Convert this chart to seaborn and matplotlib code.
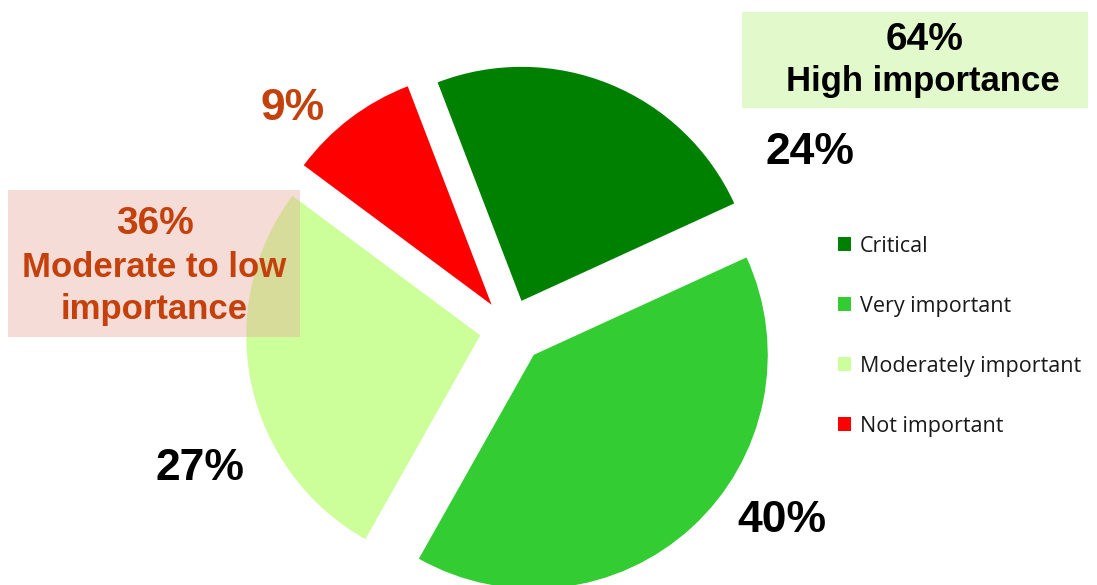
import matplotlib
matplotlib.use("Agg")
import matplotlib.pyplot as plt
from matplotlib.patches import Rectangle, Patch
import seaborn as sns

# Survey shares (percent)
categories = ["Critical", "Very important", "Moderately important", "Not important"]
shares = [24, 40, 27, 9]
colors = ["#008000", "#33CC33", "#CCFF99", "#FF0000"]
label_colors = ["#000000", "#000000", "#000000", "#C4410C"]

high_share = shares[0] + shares[1]
low_share = shares[2] + shares[3]

sns.set_theme(style="white")
plt.rcParams["font.family"] = ["Liberation Sans", "DejaVu Sans"]

W, H = 1097, 585
fig = plt.figure(figsize=(W / 100, H / 100), dpi=100)
fig.patch.set_facecolor("white")


def fx(x):
    return x / W


def fy(y):
    return 1 - y / H


# Pie axes: one data unit == R pixels, centred at (CX, CY) in pixel space
R, CX, CY = 234.0, 510.0, 329.0
ax = fig.add_axes([0, 0, 1, 1])
ax.pie(shares, colors=colors, startangle=111, counterclock=False,
       explode=[0.13, 0.15, 0.13, 0.13], radius=1.0,
       wedgeprops=dict(linewidth=0))
ax.set_xlim(-CX / R, (W - CX) / R)
ax.set_ylim(-(H - CY) / R, CY / R)
ax.set_aspect("auto")
ax.axis("off")

# Slice percentage labels
label_pos = [(810, 152), (782, 520), (200, 468), (293, 108)]
for v, (x, y), c in zip(shares, label_pos, label_colors):
    fig.text(fx(x), fy(y), f"{v}%", ha="center", va="center",
             fontsize=32, fontweight="bold", color=c)

# High-importance summary box
fig.patches.append(Rectangle((fx(742), fy(108)), fx(1088) - fx(742), fy(12) - fy(108),
                             transform=fig.transFigure, facecolor="#E2FACB",
                             edgecolor="none", zorder=0))
fig.text(fx(925), fy(40), f"{high_share}%", ha="center", va="center",
         fontsize=28, fontweight="bold", color="black")
fig.text(fx(923), fy(81), "High importance", ha="center", va="center",
         fontsize=25, fontweight="bold", color="black")

# Moderate-to-low summary box (translucent, over the pie)
fig.patches.append(Rectangle((fx(8), fy(337)), fx(300) - fx(8), fy(190) - fy(337),
                             transform=fig.transFigure, facecolor="#E9ACA0",
                             alpha=0.41, edgecolor="none", zorder=5))
fig.text(fx(155), fy(224), f"{low_share}%", ha="center", va="center",
         fontsize=28, fontweight="bold", color="#C4410C", zorder=6)
for txt, y in [("Moderate to low", 268), ("importance", 309)]:
    fig.text(fx(154), fy(y), txt, ha="center", va="center",
             fontsize=25, fontweight="bold", color="#C4410C", zorder=6)

# Legend
handles = [Patch(facecolor=c, edgecolor="none") for c in colors]
leg = fig.legend(handles, categories, loc="upper left",
                 bbox_to_anchor=(fx(829), fy(227)), frameon=False,
                 handlelength=0.6, handleheight=0.6, handletextpad=0.45,
                 labelspacing=1.81, borderaxespad=0,
                 prop=dict(family=["Open Sans", "DejaVu Sans"], size=15.5))
for t in leg.get_texts():
    t.set_color("#1A1A1A")

fig.savefig("out.png", dpi=100, facecolor="white")
